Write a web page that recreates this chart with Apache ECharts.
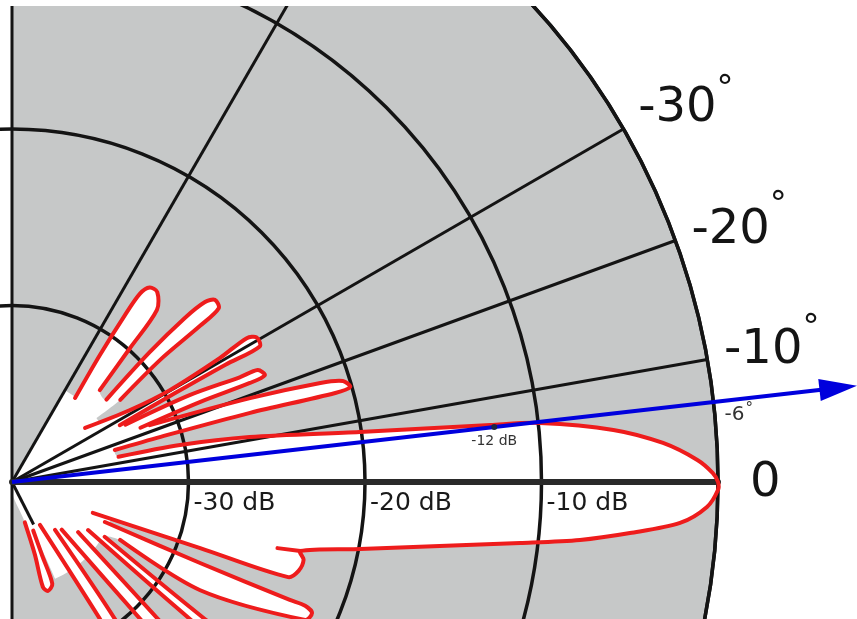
<!DOCTYPE html>
<html><head><meta charset="utf-8">
<script src="https://cdn.jsdelivr.net/npm/echarts@6/dist/echarts.min.js"></script>
<style>html,body{margin:0;padding:0;background:#fff;overflow:hidden}#c{width:857px;height:619px}</style>
</head><body><div id="c"></div>
<script>
// ---------- data (angle in degrees, + = above boresight ; level in dB) ----------
const dbTicks = [-40, -30, -20, -10, 0];
const dbTickLabels = ['', '-30 dB', '-20 dB', '-10 dB', ''];
const angleTickValues = [0, 10, 20, 30];
const angleTickLabels = ['0', '-10', '-20', '-30'];
const gridAngles = [10, 20, 30, 60, 90, 270];
const shortGrid = [-63, -37.3];          // short grid stub near the origin: [angle, outer dB]
const coreLevelDb = -34;                  // white core region around the origin
const coreAngles = [-66, 60];

const lobeA = [[53.1,-34.05],[55.3,-31.25],[55.9,-28.6],[55.8,-27.1],[54.7,-26.5],[52.6,-26.45],[49.9,-27.25],[48.6,-29.9],[46.3,-32.8]];
const lobeB = [[41.1,-32.9],[43.3,-29.3],[43.5,-26.5],[43.0,-25.05],[41.9,-24.55],[40.05,-24.7],[39.7,-26.15],[39.5,-29.1],[37.2,-32.3]];
const lobeC = [[36.5,-34.85],[31.4,-32.2],[30.2,-29.65],[30.8,-26.3],[31.5,-24.4],[30.6,-23.9],[28.7,-24.0],[28.8,-26.2],[28.6,-29.5],[27.8,-33.1]];
const lobeD = [[26.8,-32.8],[26.05,-28.8],[24.7,-25.8],[24.5,-24.7],[22.9,-24.45],[22.6,-25.4],[23.05,-28.4],[22.9,-32.1]];
const lobeE = [[22.4,-31.55],[19.4,-25.7],[17.8,-21.65],[16.97,-20.4],[15.7,-20.1],[15.4,-21.0],[16.2,-25.95],[16.9,-31.2],[17.3,-33.9]];
const mainLobe = [[13.3,-33.8],[12.4,-30.25],[10.7,-26.3],[8.18,-20.1],[6.8,-12.7],[6.38,-9.9],[4.95,-5.8],[3.43,-3.05],[1.84,-1.15],[0.74,-0.3],[0,0],[-0.65,0],[-2.06,-0.6],[-3.51,-2.08],[-4.72,-4.87],[-5.83,-7.65],[-6.85,-11.0],[-8.5,-15.5],[-10.9,-19.9],[-13.47,-23.2],[-14.96,-22.9],[-17.23,-23.0],[-19.0,-23.45],[-19.35,-28.7],[-20.94,-35.1]];
const mainStub = [[-13.99,-24.5],[-13.47,-23.2]];
const lobeL5 = [[-23.3,-34.27],[-23.3,-28.4],[-23.0,-22.9],[-22.9,-21.97],[-23.6,-21.45],[-25.2,-21.65],[-29.9,-27.7],[-28.2,-33.05]];
const lobeL4 = [[-30.6,-33.9],[-35.4,-26.6],[-35.2,-25.25],[-36.5,-24.8],[-37.5,-25.3],[-37.6,-27.3],[-32.3,-34.9]];
const lobeL3 = [[-37.15,-35.3],[-43.2,-28.65],[-43.9,-27.1],[-45.7,-26.5],[-47.1,-27.0],[-46.9,-29.4],[-43.8,-36.1]];
const lobeL2 = [[-48.1,-36.35],[-53.1,-30.3],[-54.6,-28.45],[-56.6,-28.05],[-57.75,-28.75],[-57.3,-30.8],[-56.9,-37.1]];
const lobeL1 = [[-66.4,-37.0],[-67.7,-35.5],[-68.4,-33.8],[-71.7,-33.5],[-73.6,-33.8],[-72.5,-35.7],[-72.4,-37.6]];

const beamAngle = 6.5;
const beamMarkerDb = -12.5;
const beamArrowDb = 8.2;
const beamMarkerLabel = '-12 dB';
const beamAngleLabel = '-6';

// ---------- styles ----------
const GRAY = '#c6c8c8', RED = '#ee1c1c', BLUE = '#0000dd', INK = '#141414';
const FONT = 'DejaVu Sans';
const fillOrder = [lobeA, lobeB, lobeC, lobeD, lobeE, mainLobe, lobeL5, lobeL4, lobeL3, lobeL2, lobeL1];
const outlines = [lobeA, lobeB, lobeC, lobeD, lobeE, mainLobe, mainStub, lobeL5, lobeL4, lobeL3, lobeL2, lobeL1];
const labelRaise = {10: 6, 20: -20.8, 30: -13};
const degreeRaise = {10: 21.5, 20: 24.5, 30: 18.5};

function vpad(r, left) { return r >= 0 ? [0, 0, 2 * r, left] : [-2 * r, 0, 0, left]; }
const rich = { z: {fontSize: 48, fontFamily: FONT, color: INK, lineHeight: 50, padding: [4, 0, 0, 15]} };
Object.keys(labelRaise).forEach(k => {
  const r = labelRaise[k];
  rich['n' + k] = {fontSize: 48, fontFamily: FONT, color: INK, lineHeight: 50, padding: vpad(r, 0)};
  rich['d' + k] = {fontSize: 34, fontFamily: FONT, color: INK, lineHeight: 34, padding: vpad(r + degreeRaise[k], 0)};
});

const chart = echarts.init(document.getElementById('c'), null, {renderer: 'canvas'});
const polarPos = {center: [12, 482], radius: 706};

const option = {
  backgroundColor: '#ffffff',
  animation: false,
  polar: [Object.assign({}, polarPos), Object.assign({}, polarPos)],
  angleAxis: [
    {polarIndex: 0, type: 'value', min: 0, max: 360, interval: 180, startAngle: -90, clockwise: false, z: 0,
     axisLine: {show: false}, axisTick: {show: false}, axisLabel: {show: false}, splitLine: {show: false},
     splitArea: {show: true, areaStyle: {color: [GRAY, 'rgba(0,0,0,0)', 'rgba(0,0,0,0)']}}},
    {polarIndex: 1, type: 'value', min: 0, max: 360, interval: 10, startAngle: 0, clockwise: false, z: 5,
     axisLine: {show: true, lineStyle: {color: INK, width: 3.5}},
     axisTick: {show: false}, splitLine: {show: false}, splitArea: {show: false},
     axisLabel: {show: true, margin: 17, rich: rich,
       formatter: function (v) {
         const i = angleTickValues.indexOf(v);
         if (i < 0) return '';
         if (v === 0) return '{z|' + angleTickLabels[i] + '}';
         return '{n' + v + '|' + angleTickLabels[i] + '}{d' + v + '|°}';
       }}}
  ],
  radiusAxis: [
    {polarIndex: 0, type: 'value', min: -40, max: 0, interval: 10, z: 0,
     axisLine: {show: false}, axisTick: {show: false}, axisLabel: {show: false}, splitLine: {show: false}},
    {polarIndex: 1, type: 'value', min: -40, max: 0, interval: 10, z: 5,
     axisLine: {show: true, lineStyle: {color: '#2a2a2a', width: 6}},
     axisTick: {show: false},
     splitLine: {show: true, lineStyle: {color: INK, width: 3.5}},
     axisLabel: {show: true, margin: -9, align: 'left', verticalAlign: 'top', padding: [0, 0, 0, 5],
       fontSize: 25, fontFamily: FONT, color: '#1a1a1a',
       formatter: function (v) { const i = dbTicks.indexOf(v); return i < 0 ? '' : dbTickLabels[i]; }}}
  ],
  series: [
    { // white core around the origin
      type: 'custom', coordinateSystem: 'polar', polarIndex: 1, z: 1, silent: true,
      data: [[coreLevelDb, coreAngles[0], coreAngles[1]]],
      renderItem: function (params, api) {
        const c = api.coord([-40, 0]), e = api.coord([api.value(0), 0]);
        return {type: 'sector', shape: {cx: c[0], cy: c[1], r0: 0, r: e[0] - c[0],
                startAngle: -api.value(2) * Math.PI / 180, endAngle: -api.value(1) * Math.PI / 180, clockwise: true},
                style: {fill: '#ffffff'}};
      }
    },
    { // white interior of the pattern
      type: 'custom', coordinateSystem: 'polar', polarIndex: 1, z: 1, silent: true,
      data: [[-40, 0]],
      renderItem: function (params, api) {
        const pts = [api.coord([-40, 0])];
        fillOrder.forEach(l => l.forEach(p => pts.push(api.coord([p[1], p[0]]))));
        return {type: 'polygon', shape: {points: pts, smooth: 0.3}, style: {fill: '#ffffff'}};
      }
    },
    { // radial grid lines
      type: 'custom', coordinateSystem: 'polar', polarIndex: 1, z: 4, silent: true,
      data: gridAngles.map(a => [0, a]).concat([[shortGrid[1], shortGrid[0]]]),
      renderItem: function (params, api) {
        const a = api.value(1);
        const p0 = api.coord([-40, a]), p1 = api.coord([api.value(0), a]);
        return {type: 'line', shape: {x1: p0[0], y1: p0[1], x2: p1[0], y2: p1[1]},
                style: {stroke: INK, lineWidth: 3}};
      }
    },
    { // red pattern outline
      type: 'custom', coordinateSystem: 'polar', polarIndex: 1, z: 6, silent: true,
      data: outlines.map((l, i) => [-40, i]),
      renderItem: function (params, api) {
        const l = outlines[params.dataIndex];
        const pts = l.map(p => api.coord([p[1], p[0]]));
        return {type: 'polyline', shape: {points: pts, smooth: 0.3},
                style: {stroke: RED, lineWidth: 4, fill: null, lineJoin: 'round', lineCap: 'round'}};
      }
    },
    { // steering direction arrow (shaft + head)
      type: 'custom', coordinateSystem: 'polar', polarIndex: 1, z: 7, silent: true,
      data: [[beamArrowDb, beamAngle]],
      renderItem: function (params, api) {
        const tipDb = api.value(0), a = api.value(1);
        const c = api.coord([-40, a]), tip = api.coord([tipDb, a]);
        const dx = tip[0] - c[0], dy = tip[1] - c[1], L = Math.hypot(dx, dy);
        const ux = dx / L, uy = dy / L, HL = 38, HW = 11;
        const b = [tip[0] - ux * HL, tip[1] - uy * HL];
        return {type: 'group', children: [
          {type: 'line', shape: {x1: c[0], y1: c[1], x2: b[0] + ux * 4, y2: b[1] + uy * 4}, style: {stroke: BLUE, lineWidth: 4}},
          {type: 'polygon', shape: {points: [tip, [b[0] - uy * HW, b[1] + ux * HW], [b[0] + uy * HW, b[1] - ux * HW]]}, style: {fill: BLUE}}
        ]};
      }
    },
    { // -12 dB marker and angle annotation on the beam
      type: 'line', coordinateSystem: 'polar', polarIndex: 1, z: 8, clip: false, silent: true,
      lineStyle: {opacity: 0},
      data: [
        {value: [beamMarkerDb, beamAngle], symbol: 'circle', symbolSize: 6, itemStyle: {color: '#1b2540'},
         label: {show: true, position: 'bottom', distance: 4, formatter: beamMarkerLabel,
                 fontSize: 14, fontFamily: FONT, color: '#333'}},
        {value: [0, beamAngle], symbol: 'circle', symbolSize: 0.01, itemStyle: {color: BLUE},
         label: {show: true, position: 'right', distance: 11, offset: [0, 13],
                 formatter: '{n|' + beamAngleLabel + '}{d|°}',
                 rich: {n: {fontSize: 20, fontFamily: FONT, color: '#333'},
                        d: {fontSize: 15, fontFamily: FONT, color: '#333', padding: [0, 0, 12, 1]}}}}
      ]
    }
  ],
  graphic: [
    {type: 'rect', z: 100, silent: true, shape: {x: 0, y: 0, width: 857, height: 6}, style: {fill: '#ffffff'}}
  ]
};
chart.setOption(option);
</script></body></html>
